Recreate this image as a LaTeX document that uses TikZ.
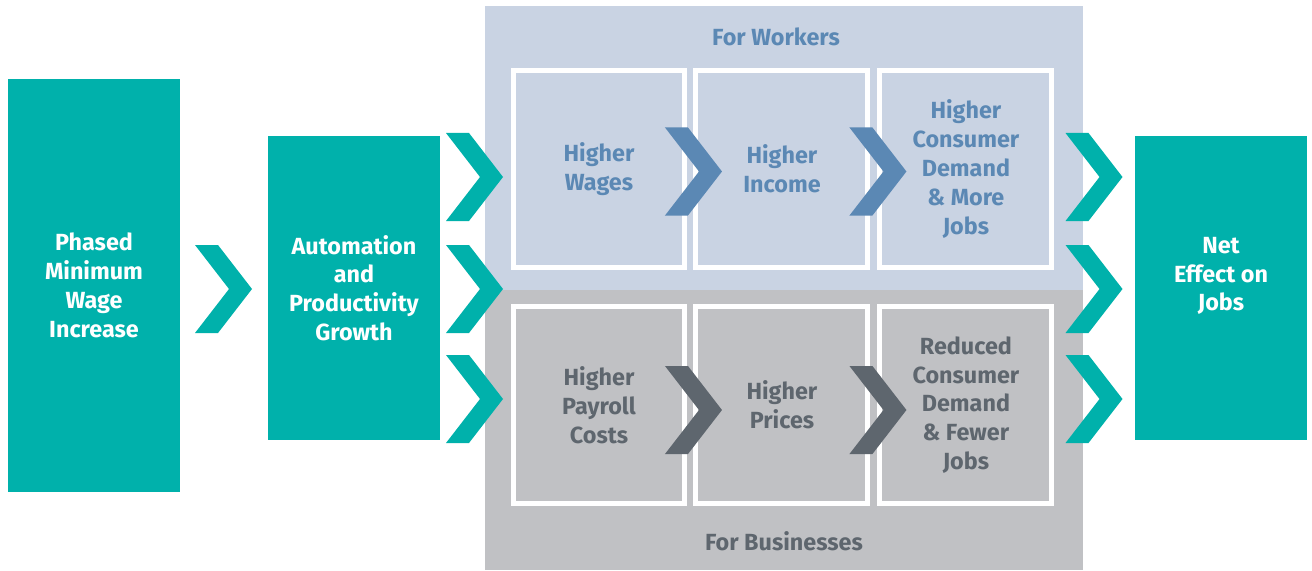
\documentclass[tikz,border=0pt]{standalone}
\usepackage{fontspec}
\setmainfont{Fira Sans}
\usetikzlibrary{positioning, calc}

\definecolor{tealbox}{HTML}{00B1AB}
\definecolor{workerbg}{HTML}{C9D3E3}
\definecolor{businessbg}{HTML}{C0C1C4}
\definecolor{workertext}{HTML}{5B88B4}
\definecolor{businesstext}{HTML}{5E666E}

\begin{document}
\begin{tikzpicture}[
    x=0.02cm, y=-0.02cm,
    font=\bfseries\fontsize{13.3}{16.4}\selectfont,
    stage/.style={fill=tealbox, text=white, align=center, minimum width=3.44cm, inner sep=0pt},
    panel/.style={fill=#1, minimum width=11.96cm, inner sep=0pt},
    effect/.style={draw=white, line width=0.1cm, fill=#1, minimum width=3.44cm, minimum height=3.94cm, align=center, inner sep=0pt},
    chev/.pic={\fill[pic actions] (-28.5,-44) -- (-5.5,-44) -- (28.5,0) -- (-5.5,44) -- (-28.5,44) -- (5.5,0) -- cycle;}
]
    \useasboundingbox (0,0) rectangle (1312,571);

    % Background panels
    \node[panel=workerbg, minimum height=5.68cm] (workers) at (784,148) {};
    \node[panel=businessbg, minimum height=5.6cm] (business) at (784,430) {};
    \node[text=workertext] (workers_title) at (776,37) {For Workers};
    \node[text=businesstext] (business_title) at (784,541) {For Businesses};

    % Teal stages
    \node[stage, minimum height=8.26cm] (wage) at (94,285.5) {Phased\\Minimum\\Wage\\Increase};
    \node[stage, minimum height=6.08cm] (auto) at (354,288) {Automation\\and\\Productivity\\Growth};
    \node[stage, minimum height=6.08cm] (net) at (1221,288) {};
    \node[text=white, align=center] (net_text) at (1221,276) {Net\\Effect on\\Jobs};

    % Worker effects
    \node[effect=workerbg, text=workertext] (wages) at (599,169) {Higher\\Wages};
    \node[effect=workerbg, text=workertext, right=0.12cm of wages] (income) {Higher\\Income};
    \node[effect=workerbg, text=workertext, right=0.14cm of income] (demand_up) {Higher\\Consumer\\Demand\\\& More\\Jobs};

    % Business effects
    \node[effect=businessbg, text=businesstext] (payroll) at (599,405) {Higher\\Payroll\\Costs};
    \node[effect=businessbg, text=businesstext, right=0.12cm of payroll] (prices) {Higher\\Prices};
    \node[effect=businessbg, text=businesstext, right=0.14cm of prices] (demand_down) {Reduced\\Consumer\\Demand\\\& Fewer\\Jobs};

    % Chevrons
    \pic[fill=tealbox] at (223.5,289) {chev};
    \foreach \y in {177,289,399} {
        \pic[fill=tealbox] at (474.5,\y) {chev};
        \pic[fill=tealbox] at (1094,\y) {chev};
    }
    \pic[fill=workertext] at ($(wages.east)!0.5!(income.west)+(3,2.5)$) {chev};
    \pic[fill=workertext] at ($(income.east)!0.5!(demand_up.west)+(4,2.5)$) {chev};
    \pic[fill=businesstext] at ($(payroll.east)!0.5!(prices.west)+(3,5)$) {chev};
    \pic[fill=businesstext] at ($(prices.east)!0.5!(demand_down.west)+(4,5)$) {chev};

\end{tikzpicture}
\end{document}
